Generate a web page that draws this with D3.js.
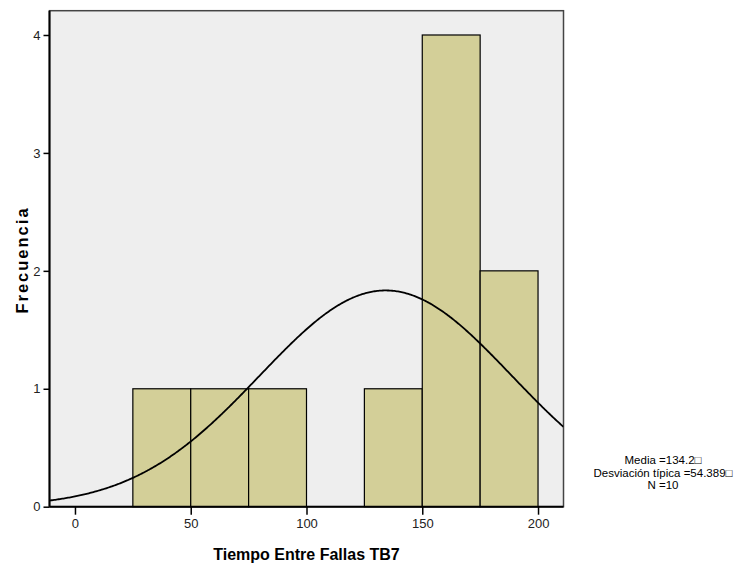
<!DOCTYPE html>
<html>
<head>
<meta charset="utf-8">
<script src="https://cdn.jsdelivr.net/npm/d3@7"></script>
<style>
  body { margin: 0; background: #fff; }
  svg { display: block; font-family: "Liberation Sans Narrow", "Arial Narrow", Arial, sans-serif; }
</style>
</head>
<body>
<div id="chart"></div>
<script>
// histogram bins (lower edge) and counts
const binStarts = [25, 50, 75, 125, 150, 175];
const binWidth = 25;
const counts = [1, 1, 1, 1, 4, 2];
const xTicks = [0, 50, 100, 150, 200];
const yTicks = [0, 1, 2, 3, 4];
const mean = 134.2;
const sd = 54.389;
const n = 10;
const statLines = ['Media =134.2\u25A1', 'Desviación típica =54.389\u25A1', 'N =10'];

const width = 742, height = 572;
const margin = { left: 49.5, right: 742 - 563.5, top: 10.7, bottom: 572 - 506.7 };

const svg = d3.select('#chart').append('svg')
  .attr('width', width).attr('height', height);

const x = d3.scaleLinear().domain([-11, 211]).range([margin.left, width - margin.right]);
const y = d3.scaleLinear().domain([0, 4.206]).range([height - margin.bottom, margin.top]);

svg.append('defs').append('clipPath').attr('id', 'plot-clip')
  .append('rect')
  .attr('x', x.range()[0]).attr('y', y.range()[1])
  .attr('width', x.range()[1] - x.range()[0]).attr('height', y.range()[0] - y.range()[1]);

// background
svg.append('rect')
  .attr('x', x.range()[0]).attr('y', y.range()[1])
  .attr('width', x.range()[1] - x.range()[0]).attr('height', y.range()[0] - y.range()[1])
  .attr('fill', '#eeeeee').attr('stroke', '#444').attr('stroke-width', 1.5);

const bins = binStarts.map((s, i) => ({ x0: s, x1: s + binWidth, count: counts[i] }));

svg.append('g').selectAll('rect').data(bins).join('rect')
  .attr('x', (d) => x(d.x0))
  .attr('y', (d) => y(d.count))
  .attr('width', (d) => x(d.x1) - x(d.x0))
  .attr('height', (d) => y(0) - y(d.count))
  .attr('fill', '#d3cf98')
  .attr('stroke', '#000').attr('stroke-width', 1.2);

// normal curve scaled to counts
const scale = n * binWidth / (sd * Math.sqrt(2 * Math.PI));
const curveData = d3.range(-11, 211.5, 0.5).map((v) => [v, scale * Math.exp(-0.5 * ((v - mean) / sd) ** 2)]);

svg.append('path')
  .datum(curveData)
  .attr('clip-path', 'url(#plot-clip)')
  .attr('fill', 'none').attr('stroke', '#000').attr('stroke-width', 1.8)
  .attr('d', d3.line().x((d) => x(d[0])).y((d) => y(d[1])));

// axes
const xAxis = svg.append('g')
  .attr('transform', `translate(0,${y(0)})`)
  .call(d3.axisBottom(x).tickValues(xTicks).tickSize(8).tickPadding(4).tickSizeOuter(0));
xAxis.select('.domain').attr('stroke', '#000').attr('stroke-width', 2)
  .attr('d', `M${x.range()[0]},0H${x.range()[1]}`);
xAxis.selectAll('.tick line').attr('stroke-width', 1.5);
xAxis.selectAll('.tick text').attr('font-size', 13).attr('font-family', null).attr('fill', '#222');

const yAxis = svg.append('g')
  .attr('transform', `translate(${x.range()[0]},0)`)
  .call(d3.axisLeft(y).tickValues(yTicks).tickFormat(d3.format('d')).tickSize(6).tickPadding(3).tickSizeOuter(0));
yAxis.select('.domain').attr('stroke', '#000').attr('stroke-width', 2)
  .attr('d', `M0,${y.range()[0]}V${y.range()[1]}`);
yAxis.selectAll('.tick line').attr('stroke-width', 1.5);
yAxis.selectAll('.tick text').attr('font-size', 13).attr('font-family', null).attr('fill', '#222');

// titles
svg.append('text')
  .attr('x', (x.range()[0] + x.range()[1]) / 2).attr('y', 560)
  .attr('text-anchor', 'middle').attr('font-weight', 'bold').attr('font-size', 16)
  .text('Tiempo Entre Fallas TB7');

svg.append('text')
  .attr('transform', 'translate(28,260) rotate(-90)')
  .attr('text-anchor', 'middle').attr('font-weight', 'bold').attr('font-size', 16.5)
  .attr('letter-spacing', 2)
  .text('Frecuencia');

svg.append('g').selectAll('text').data(statLines).join('text')
  .attr('x', 663).attr('y', (d, i) => 464 + i * 12.5)
  .attr('text-anchor', 'middle').attr('font-size', 11.5)
  .text((d) => d);
</script>
</body>
</html>
